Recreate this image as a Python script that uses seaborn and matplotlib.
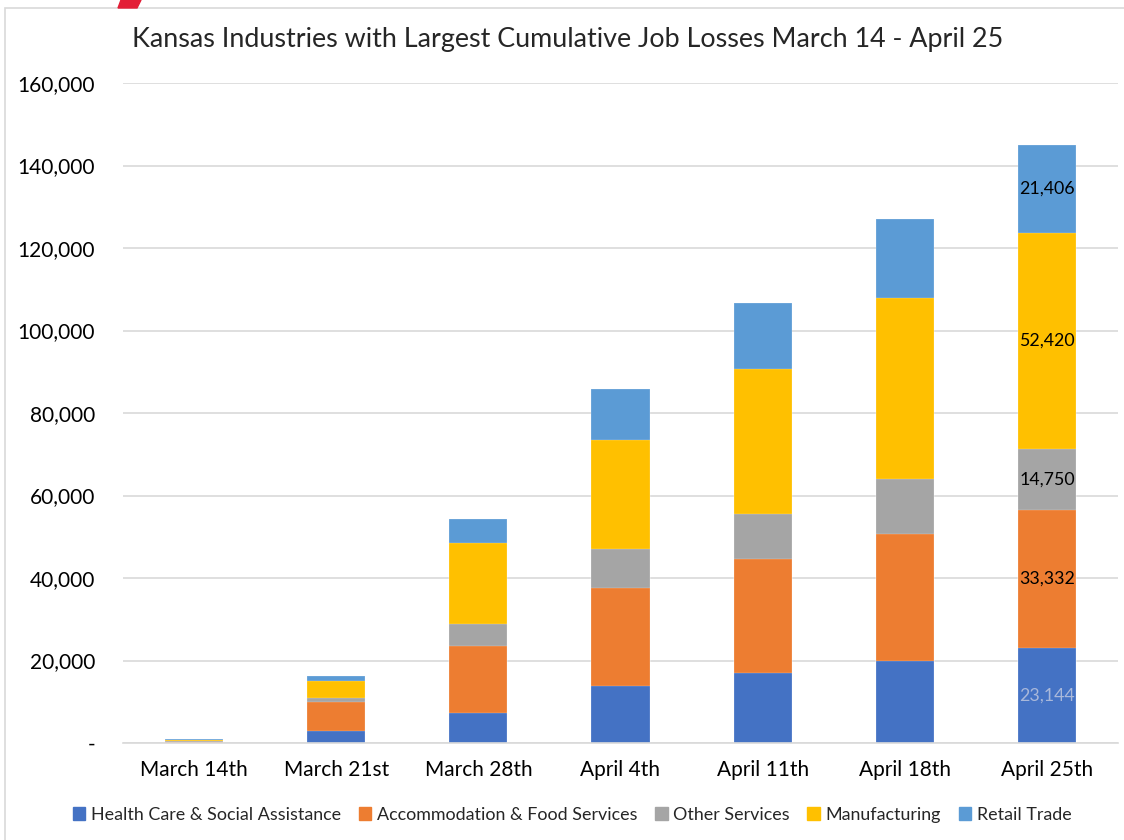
import numpy as np
import pandas as pd
import matplotlib
matplotlib.use("Agg")
import matplotlib.pyplot as plt
from matplotlib.patches import Rectangle, Polygon
import seaborn as sns

weeks = ["March 14th", "March 21st", "March 28th", "April 4th", "April 11th", "April 18th", "April 25th"]
industries = ["Health Care & Social Assistance", "Accommodation & Food Services",
              "Other Services", "Manufacturing", "Retail Trade"]
health_care = [100, 2900, 7270, 13820, 16970, 19880, 23144]
accommodation = [200, 7000, 16330, 23760, 27630, 30790, 33332]
other_services = [100, 1000, 5300, 9450, 10910, 13330, 14750]
manufacturing = [400, 4100, 19660, 26420, 35160, 43880, 52420]
retail = [250, 1200, 5740, 12350, 16000, 19150, 21406]
colors = ["#4472C4", "#ED7D31", "#A5A5A5", "#FFC000", "#5B9BD5"]
yticks = [0, 20000, 40000, 60000, 80000, 100000, 120000, 140000, 160000]

sns.set_theme(style="white")
plt.rcParams['font.family'] = ['Lato', 'DejaVu Sans']

series = [health_care, accommodation, other_services, manufacturing, retail]
cum = np.cumsum(np.array(series), axis=0)

fig = plt.figure(figsize=(11.24, 8.4), dpi=100)
ax = fig.add_axes([123/1124, 1 - 743/840, (1118-123)/1124, 660/840])

# draw cumulative layers from top to bottom so lower segments cover upper
for i in range(len(industries) - 1, -1, -1):
    df = pd.DataFrame({"week": weeks, "value": cum[i]})
    sns.barplot(data=df, x="week", y="value", color=colors[i], saturation=1,
                width=0.41, ax=ax, edgecolor="#FFFFFF80", linewidth=0.3)

if ax.get_legend() is not None:
    ax.get_legend().remove()

ax.set_ylim(0, 160000)
ax.set_xlim(-0.5, 6.5)
ax.set_yticks(yticks)
ax.set_yticklabels(["-" if v == 0 else f"{v:,}" for v in yticks])
ax.set_xlabel("")
ax.set_ylabel("")
ax.yaxis.grid(True, color="#D9D9D9", linewidth=1.2)
ax.set_axisbelow(True)
for s in ["top", "right", "left"]:
    ax.spines[s].set_visible(False)
ax.spines["bottom"].set_color("#D9D9D9")
ax.spines["bottom"].set_linewidth(1.2)
ax.tick_params(axis="both", length=0, labelsize=15, colors="#000000")
ax.tick_params(axis="y", pad=20)
ax.tick_params(axis="x", pad=12)

# data labels on last bar
last = len(weeks) - 1
label_colors = ["#A9B8DA", "#000000", "#000000", "#000000", "#000000"]
for i in range(len(industries)):
    bottom = cum[i - 1][last] if i > 0 else 0
    mid = bottom + series[i][last] / 2
    ax.text(last, mid, f"{series[i][last]:,}", ha="center", va="center",
            fontsize=12.8, color=label_colors[i])

fig.text(0.5 + 6/1124, 1 - 40/840, "Kansas Industries with Largest Cumulative Job Losses March 14 - April 25",
         ha="center", va="center", fontsize=19.4)

# legend
handles = [Rectangle((0, 0), 1, 1, color=c) for c in colors]
fig.legend(handles, industries, loc="center", bbox_to_anchor=(0.5 + 10/1124, 1 - 815/840), ncol=5,
           frameon=False, fontsize=12.9, handlelength=0.7, handleheight=0.7,
           handletextpad=0.3, columnspacing=1.0)

# chart border and logo stripe
fig.patches.append(Rectangle((5/1124, -0.01), 1.2, 1 - 8/840 + 0.01, transform=fig.transFigure,
                             fill=False, edgecolor="#D9D9D9", linewidth=1.2))
fig.patches.append(Polygon([(118/1124, 1 - 8/840), (121/1124, 1.0), (141/1124, 1.0), (137/1124, 1 - 8/840)],
                           closed=True, transform=fig.transFigure, color="#E31E36"))

fig.savefig("out.png", dpi=100)
